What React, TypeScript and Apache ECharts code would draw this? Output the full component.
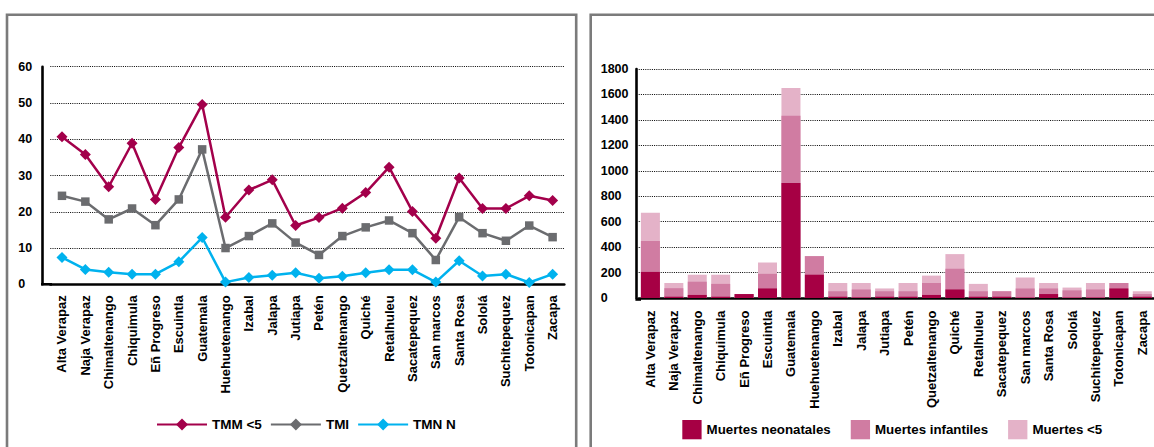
import React, { useEffect, useRef } from "react";
import * as echarts from "echarts";

// Departamentos (eje de categorías compartido por ambos gráficos)
const departamentos = [
  "Alta Verapaz",
  "Naja Verapaz",
  "Chimaltenango",
  "Chiquimula",
  "Eñ Progreso",
  "Escuintla",
  "Guatemala",
  "Huehuetenango",
  "Izabal",
  "Jalapa",
  "Jutiapa",
  "Petén",
  "Quetzaltenango",
  "Quiché",
  "Retalhuleu",
  "Sacatepequez",
  "San marcos",
  "Santa Rosa",
  "Sololá",
  "Suchitepequez",
  "Totonicapan",
  "Zacapa",
];

// Tasas de mortalidad
const tmm5 = [40.7, 35.8, 26.9, 38.9, 23.4, 37.7, 49.6, 18.5, 26.0, 28.8, 16.2, 18.4, 21.0, 25.3, 32.3, 20.1, 12.7, 29.3, 20.9, 20.9, 24.4, 23.1];
const tmi = [24.4, 22.8, 17.9, 20.9, 16.3, 23.4, 37.2, 10.0, 13.3, 16.8, 11.5, 8.1, 13.3, 15.7, 17.6, 14.1, 6.7, 18.5, 14.1, 12.0, 16.2, 13.0];
const tmnN = [7.4, 4.1, 3.3, 2.8, 2.8, 6.2, 12.9, 0.6, 1.9, 2.5, 3.2, 1.7, 2.2, 3.2, 4.0, 4.0, 0.6, 6.5, 2.3, 2.8, 0.5, 2.8];

// Número de muertes (acumulado: neonatales ⊂ infantiles ⊂ menores de 5)
const muertesNeonatales = [205, 10, 24, 10, 31, 75, 904, 183, 10, 5, 10, 10, 24, 67, 10, 10, 4, 31, 4, 4, 75, 10];
const muertesInfantiles = [449, 77, 128, 111, 31, 190, 1432, 329, 53, 67, 53, 53, 118, 230, 53, 53, 75, 75, 60, 67, 118, 31];
const muertesMenores5 = [670, 118, 183, 183, 31, 279, 1650, 329, 118, 118, 75, 118, 176, 345, 111, 53, 161, 118, 82, 118, 118, 53];

// Escalas de los ejes: [mín, máx, intervalo]
const escalaTasas = [0, 60, 10];
const escalaMuertes = [0, 1800, 200];

const FONT = "'Liberation Sans', Arial, Helvetica, sans-serif";
const COLOR_TMM = "#a3004b";
const COLOR_TMI = "#6b6c6f";
const COLOR_TMN = "#00b2ee";
const COLOR_NEO = "#a60044";
const COLOR_INF = "#d07ca2";
const COLOR_M5 = "#e4b2c8";
const AXIS_W = 2.6;

export default function App() {
  const ref = useRef<HTMLDivElement>(null);

  useEffect(() => {
    if (!ref.current) return;
    const chart = echarts.init(ref.current, undefined, { renderer: "svg" });

    const labelBase = { color: "#000", fontWeight: "bold" as const, fontFamily: FONT };

    const categoryAxis = (gridIndex: number, offset: number) => ({
      type: "category" as const,
      gridIndex,
      data: departamentos,
      boundaryGap: true,
      offset,
      axisLine: { show: true, lineStyle: { color: "#000", width: AXIS_W } },
      axisTick: { show: false },
      splitLine: { show: false },
      axisLabel: { ...labelBase, interval: 0, rotate: 90, margin: 11, fontSize: 13 },
    });

    const valueAxis = (gridIndex: number, escala: number[], offset: number, margin: number) => ({
      type: "value" as const,
      gridIndex,
      min: escala[0],
      max: escala[1],
      interval: escala[2],
      offset,
      axisLine: { show: true, lineStyle: { color: "#000", width: AXIS_W } },
      axisTick: { show: false },
      axisLabel: {
        ...labelBase,
        align: "left",
        margin,
        fontSize: 12.5,
        formatter: (v: number) => String(v),
      },
      splitLine: { show: true, lineStyle: { color: "#000", width: 1, type: [1, 1.2] } },
    });

    const barra = (name: string, data: number[], color: string) => ({
      name,
      type: "bar" as const,
      xAxisIndex: 1,
      yAxisIndex: 1,
      data,
      barWidth: 19,
      barGap: "-100%",
      itemStyle: { color },
    });

    chart.setOption({
      animation: false,
      backgroundColor: "#ffffff",
      textStyle: { fontFamily: FONT },
      grid: [
        { left: 50.3, top: 66.7, width: 514, height: 217.6 },
        { left: 638.7, top: 69, width: 519.2, height: 229 },
      ],
      xAxis: [categoryAxis(0, 0), categoryAxis(1, 1.5)],
      yAxis: [valueAxis(0, escalaTasas, 8, 24), valueAxis(1, escalaMuertes, 2, 36)],
      legend: [
        {
          data: ["TMM <5", "TMI", "TMN N"],
          left: 151,
          top: 412.5,
          itemWidth: 50,
          itemHeight: 15,
          itemGap: 8,
          textStyle: { ...labelBase, fontSize: 13.5 },
        },
        {
          data: ["Muertes neonatales", "Muertes infantiles", "Muertes <5"],
          left: 677.3,
          top: 415,
          icon: "rect",
          itemWidth: 19.3,
          itemHeight: 19.3,
          itemGap: 20,
          textStyle: { ...labelBase, fontSize: 13.3 },
        },
      ],
      graphic: [
        {
          type: "rect",
          silent: true,
          shape: { x: 7, y: 14.7, width: 569.2, height: 500 },
          style: { fill: "none", stroke: "#7b7b7b", lineWidth: 2.6 },
        },
        {
          type: "rect",
          silent: true,
          shape: { x: 590.7, y: 14.7, width: 600, height: 500 },
          style: { fill: "none", stroke: "#7b7b7b", lineWidth: 2.6 },
        },
        {
          type: "line",
          silent: true,
          shape: { x1: 41, y1: 284.3, x2: 52, y2: 284.3 },
          style: { stroke: "#000", lineWidth: AXIS_W },
        },
        {
          type: "line",
          silent: true,
          shape: { x1: 635.4, y1: 299.5, x2: 641, y2: 299.5 },
          style: { stroke: "#000", lineWidth: AXIS_W },
        },
      ],
      series: [
        {
          name: "TMI",
          type: "line",
          xAxisIndex: 0,
          yAxisIndex: 0,
          data: tmi.map((v) => ({ value: v, symbol: "rect", symbolSize: 8.5 })),
          symbol: "diamond",
          symbolSize: 11,
          color: COLOR_TMI,
          itemStyle: { color: COLOR_TMI },
          lineStyle: { color: COLOR_TMI, width: 2.5 },
        },
        {
          name: "TMM <5",
          type: "line",
          xAxisIndex: 0,
          yAxisIndex: 0,
          data: tmm5,
          symbol: "diamond",
          symbolSize: 11,
          color: COLOR_TMM,
          itemStyle: { color: COLOR_TMM },
          lineStyle: { color: COLOR_TMM, width: 2.5 },
        },
        {
          name: "TMN N",
          type: "line",
          xAxisIndex: 0,
          yAxisIndex: 0,
          data: tmnN,
          symbol: "diamond",
          symbolSize: 11,
          color: COLOR_TMN,
          itemStyle: { color: COLOR_TMN },
          lineStyle: { color: COLOR_TMN, width: 2.5 },
        },
        barra("Muertes <5", muertesMenores5, COLOR_M5),
        barra("Muertes infantiles", muertesInfantiles, COLOR_INF),
        barra("Muertes neonatales", muertesNeonatales, COLOR_NEO),
      ],
    });

    return () => chart.dispose();
  }, []);

  return (
    <div
      ref={ref}
      style={{ position: "fixed", left: 0, top: 0, width: 1154, height: 447, background: "#fff" }}
    />
  );
}
